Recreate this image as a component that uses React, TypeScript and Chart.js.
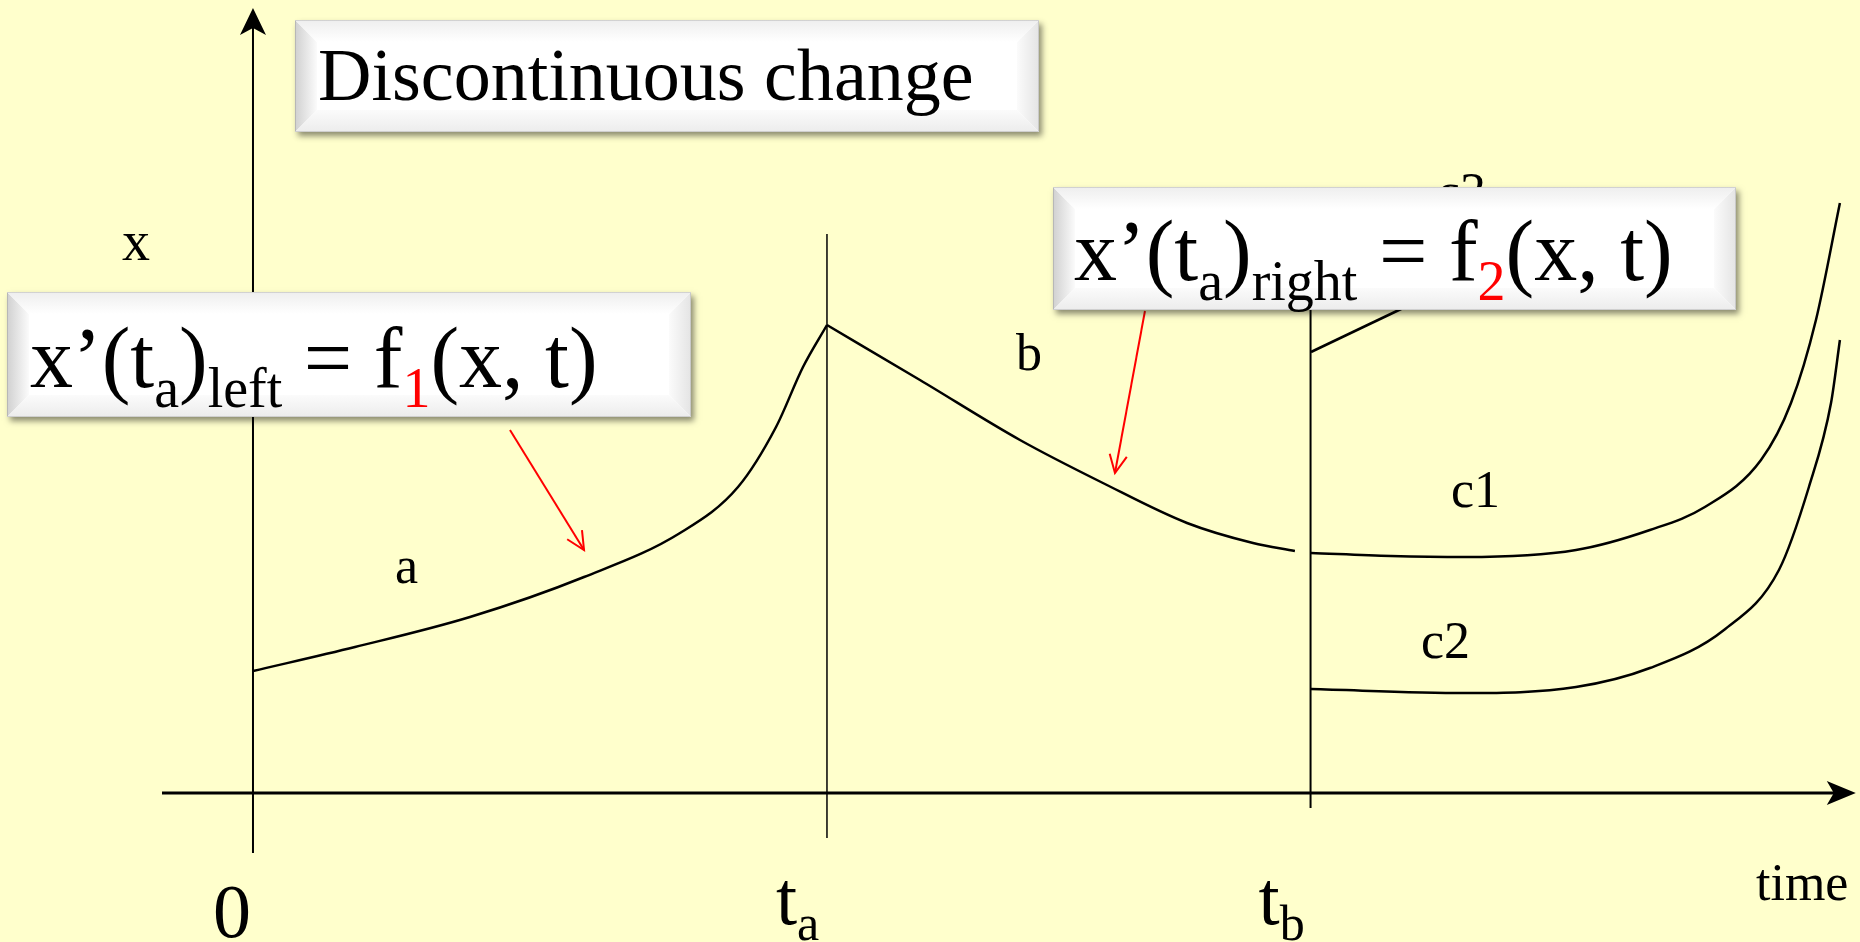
import React, { useEffect, useRef } from "react";
import { Chart, registerables } from "chart.js";

Chart.register(...registerables);

// ---- Data (time units on x, state x on y) ----
const T_A = 4.0;
const T_B = 7.37;

const curveA_t = [0, 0.711, 1.512, 2.307, 2.976, 3.38, 3.645, 3.833, 4.0];
const curveA_x = [1.22, 1.46, 1.76, 2.16, 2.6, 3.06, 3.66, 4.26, 4.68];

const curveB_t = [4.0, 4.648, 5.345, 5.923, 6.509, 6.969, 7.261];
const curveB_x = [4.68, 4.13, 3.53, 3.1, 2.7, 2.5, 2.42];

const curveC1_t = [7.373, 7.93, 8.446, 9.22, 9.735, 10.118, 10.509, 10.718, 10.892, 11.059];
const curveC1_x = [2.4, 2.37, 2.36, 2.43, 2.63, 2.86, 3.33, 3.9, 4.73, 5.9];

const curveC2_t = [7.373, 8.446, 9.22, 9.735, 10.251, 10.634, 10.843, 10.997, 11.059];
const curveC2_x = [1.04, 1.0, 1.06, 1.25, 1.63, 2.23, 3.06, 3.9, 4.53];

const curveC3_t = [7.373, 8.132];
const curveC3_x = [4.41, 4.93];

const yAxis_t = [0, 0];
const yAxis_x = [-0.6, 7.78];
const xAxis_t = [-0.634, 11.1];
const xAxis_x = [0, 0];
const taLine_t = [T_A, T_A];
const taLine_x = [-0.45, 5.59];
const tbLine_t = [T_B, T_B];
const tbLine_x = [-0.15, 4.85];

const arrow1_t = [1.791, 2.307];
const arrow1_x = [3.63, 2.43];
const arrow2_t = [6.216, 6.007];
const arrow2_x = [4.82, 3.2];

const X_MIN = -1.763;
const X_MAX = 11.199;
const Y_MIN = -1.49;
const Y_MAX = 7.93;

const BG = "#FFFFCC";
const SERIF = '"Liberation Serif", "Times New Roman", serif';

const pts = (ts: number[], xs: number[]) => ts.map((t, i) => ({ x: t, y: xs[i] }));

type Seg = { text: string; size: number; dy?: number; color?: string };

function drawRich(ctx: CanvasRenderingContext2D, x: number, y: number, segs: Seg[]) {
  let cx = x;
  for (const s of segs) {
    ctx.font = `${s.size}px ${SERIF}`;
    ctx.fillStyle = s.color || "#000";
    ctx.textAlign = "left";
    ctx.textBaseline = "alphabetic";
    ctx.fillText(s.text, cx, y + (s.dy || 0));
    cx += ctx.measureText(s.text).width;
  }
}

function drawBox(ctx: CanvasRenderingContext2D, x: number, y: number, w: number, h: number) {
  ctx.save();
  ctx.shadowColor = "rgba(0,0,0,0.45)";
  ctx.shadowBlur = 6;
  ctx.shadowOffsetX = 3;
  ctx.shadowOffsetY = 4;
  ctx.fillStyle = "#ffffff";
  ctx.fillRect(x, y, w, h);
  ctx.restore();
  const b = Math.min(22, h * 0.2);
  const poly = (p: number[][], fill: any) => {
    ctx.beginPath();
    ctx.moveTo(p[0][0], p[0][1]);
    for (let i = 1; i < p.length; i++) ctx.lineTo(p[i][0], p[i][1]);
    ctx.closePath();
    ctx.fillStyle = fill;
    ctx.fill();
  };
  let g = ctx.createLinearGradient(x, 0, x + b, 0);
  g.addColorStop(0, "#d0d0d0");
  g.addColorStop(1, "#fbfbfb");
  poly([[x, y], [x + b, y + b], [x + b, y + h - b], [x, y + h]], g);
  g = ctx.createLinearGradient(x + w, 0, x + w - b, 0);
  g.addColorStop(0, "#e4e4e4");
  g.addColorStop(1, "#fbfbfb");
  poly([[x + w, y], [x + w - b, y + b], [x + w - b, y + h - b], [x + w, y + h]], g);
  g = ctx.createLinearGradient(0, y, 0, y + b);
  g.addColorStop(0, "#eeeeee");
  g.addColorStop(1, "#ffffff");
  poly([[x, y], [x + w, y], [x + w - b, y + b], [x + b, y + b]], g);
  g = ctx.createLinearGradient(0, y + h, 0, y + h - b);
  g.addColorStop(0, "#ececec");
  g.addColorStop(1, "#fbfbfb");
  poly([[x, y + h], [x + w, y + h], [x + w - b, y + h - b], [x + b, y + h - b]], g);
  ctx.strokeStyle = "rgba(0,0,0,0.12)";
  ctx.lineWidth = 1;
  ctx.strokeRect(x + 0.5, y + 0.5, w - 1, h - 1);
}

const overlayPlugin = {
  id: "overlay",
  beforeDraw(chart: any) {
    const ctx = chart.ctx;
    ctx.save();
    ctx.fillStyle = BG;
    ctx.fillRect(0, 0, chart.width, chart.height);
    ctx.restore();
  },
  afterDatasetsDraw(chart: any) {
    const ctx: CanvasRenderingContext2D = chart.ctx;
    const xs = chart.scales.x;
    const ys = chart.scales.y;
    const px = (t: number) => xs.getPixelForValue(t);
    const py = (v: number) => ys.getPixelForValue(v);
    ctx.save();

    // axis arrowheads (stealth style)
    ctx.fillStyle = "#000";
    {
      const tx = px(yAxis_t[1]);
      const ty = py(yAxis_x[1]) - 7;
      ctx.beginPath();
      ctx.moveTo(tx, ty);
      ctx.lineTo(tx - 13, ty + 27);
      ctx.lineTo(tx, ty + 20);
      ctx.lineTo(tx + 13, ty + 27);
      ctx.closePath();
      ctx.fill();
    }
    {
      const tx = px(xAxis_t[1]) + 10;
      const ty = py(xAxis_x[1]);
      ctx.beginPath();
      ctx.moveTo(tx, ty);
      ctx.lineTo(tx - 29, ty - 12);
      ctx.lineTo(tx - 22, ty);
      ctx.lineTo(tx - 29, ty + 12);
      ctx.closePath();
      ctx.fill();
    }

    // red open arrowheads
    const openHead = (ts: number[], vs: number[]) => {
      const x1 = px(ts[0]), y1 = py(vs[0]), x2 = px(ts[1]), y2 = py(vs[1]);
      const ang = Math.atan2(y2 - y1, x2 - x1);
      const L = 20, spread = 0.45;
      ctx.strokeStyle = "#ff0000";
      ctx.lineWidth = 2;
      ctx.beginPath();
      ctx.moveTo(x2 - L * Math.cos(ang - spread), y2 - L * Math.sin(ang - spread));
      ctx.lineTo(x2, y2);
      ctx.lineTo(x2 - L * Math.cos(ang + spread), y2 - L * Math.sin(ang + spread));
      ctx.stroke();
    };
    openHead(arrow1_t, arrow1_x);
    openHead(arrow2_t, arrow2_x);

    // labels
    const small = 52;
    ctx.fillStyle = "#000";
    drawRich(ctx, 122, 260, [{ text: "x", size: 56 }]);
    drawRich(ctx, 395, 583, [{ text: "a", size: small }]);
    drawRich(ctx, 1016, 370, [{ text: "b", size: small }]);
    drawRich(ctx, 1451, 507, [{ text: "c1", size: small }]);
    drawRich(ctx, 1421, 658, [{ text: "c2", size: small }]);
    drawRich(ctx, 1437, 209, [{ text: "c3", size: small }]);
    drawRich(ctx, 1756, 900, [{ text: "time", size: 52 }]);
    drawRich(ctx, px(0) - 40, 937, [{ text: "0", size: 76 }]);
    drawRich(ctx, px(T_A) - 51, 924, [
      { text: "t", size: 76 },
      { text: "a", size: 50, dy: 16 },
    ]);
    drawRich(ctx, px(T_B) - 52, 924, [
      { text: "t", size: 76 },
      { text: "b", size: 50, dy: 16 },
    ]);

    // boxes
    drawBox(ctx, 295, 20, 744, 112);
    drawRich(ctx, 318, 100, [{ text: "Discontinuous change", size: 74 }]);

    const F = 86, S = 56;
    drawBox(ctx, 1053, 187, 683, 123);
    drawRich(ctx, 1074, 280, [
      { text: "x\u2019(t", size: F },
      { text: "a", size: S, dy: 20 },
      { text: ")", size: F },
      { text: "right", size: S, dy: 20 },
      { text: " = f", size: F },
      { text: "2", size: S, dy: 20, color: "#ff0000" },
      { text: "(x, t)", size: F },
    ]);

    drawBox(ctx, 7, 292, 684, 125);
    drawRich(ctx, 30, 387, [
      { text: "x\u2019(t", size: F },
      { text: "a", size: S, dy: 20 },
      { text: ")", size: F },
      { text: "left", size: S, dy: 20 },
      { text: " = f", size: F },
      { text: "1", size: S, dy: 20, color: "#ff0000" },
      { text: "(x, t)", size: F },
    ]);

    ctx.restore();
  },
};

export default function App() {
  const ref = useRef<HTMLCanvasElement | null>(null);
  useEffect(() => {
    document.body.style.margin = "0";
    document.body.style.background = BG;
    const canvas = ref.current!;
    const line = (ts: number[], xs: number[], width: number, color = "#000", smooth = true) => ({
      data: pts(ts, xs),
      showLine: true,
      borderColor: color,
      borderWidth: width,
      pointRadius: 0,
      tension: smooth ? 0.4 : 0,
      cubicInterpolationMode: smooth ? "monotone" : "default",
      fill: false,
    });
    const chart = new Chart(canvas, {
      type: "scatter",
      data: {
        datasets: [
          line(yAxis_t, yAxis_x, 2, "#000", false),
          line(xAxis_t, xAxis_x, 3, "#000", false),
          line(taLine_t, taLine_x, 1.5, "#000", false),
          line(tbLine_t, tbLine_x, 2, "#000", false),
          line(curveA_t, curveA_x, 2.5),
          line(curveB_t, curveB_x, 2.5),
          line(curveC1_t, curveC1_x, 2.5),
          line(curveC2_t, curveC2_x, 2.5),
          line(curveC3_t, curveC3_x, 2.5, "#000", false),
          line(arrow1_t, arrow1_x, 2, "#ff0000", false),
          line(arrow2_t, arrow2_x, 2, "#ff0000", false),
        ] as any,
      },
      options: {
        animation: false,
        responsive: false,
        devicePixelRatio: 1,
        layout: { padding: 0 },
        plugins: { legend: { display: false }, tooltip: { enabled: false } },
        scales: {
          x: { type: "linear", min: X_MIN, max: X_MAX, display: false },
          y: { type: "linear", min: Y_MIN, max: Y_MAX, display: false },
        },
      },
      plugins: [overlayPlugin],
    });
    return () => chart.destroy();
  }, []);
  return <canvas ref={ref} width={1860} height={942} style={{ display: "block", width: 1860, height: 942 }} />;
}
